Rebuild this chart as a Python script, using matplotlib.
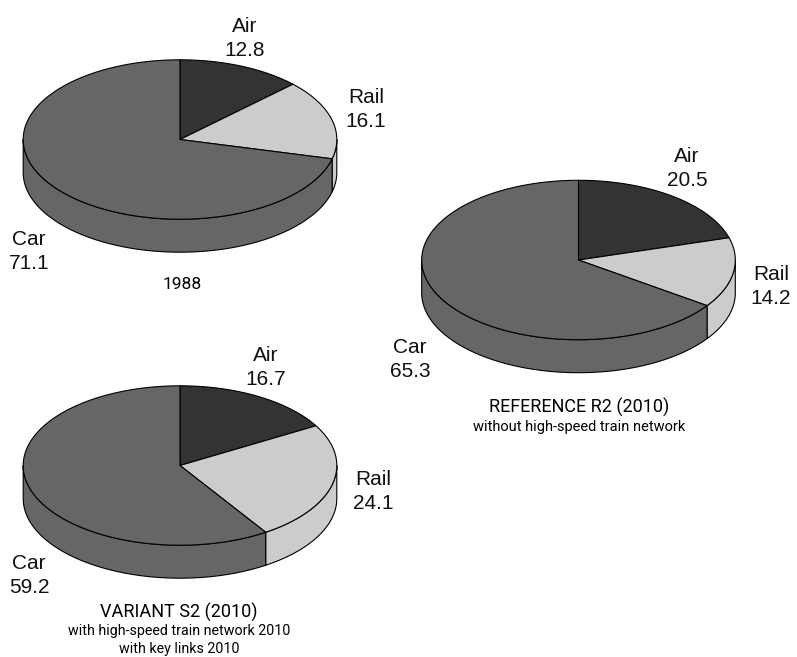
import numpy as np
import matplotlib
matplotlib.use('Agg')
import matplotlib.pyplot as plt
from matplotlib.patches import Polygon

plt.rcParams['font.family'] = ['Liberation Sans', 'DejaVu Sans']
NARROW = ['Roboto', 'Liberation Sans']

# shares in percent, order is clockwise from the top
names = ['Air', 'Rail', 'Car']
shares_1988 = [12.8, 16.1, 71.1]
shares_r2 = [20.5, 14.2, 65.3]
shares_s2 = [16.7, 24.1, 59.2]
colors = ['#333333', '#cccccc', '#666666']

RX, RY, DEPTH = 156.8, 79.7, 33


def rim(cx, cy, a, b, n=200):
    # a, b in degrees clockwise from 12 o'clock
    t = np.radians(np.linspace(a, b, n))
    return np.column_stack([cx + RX * np.sin(t), cy - RY * np.cos(t)])


def pie3d(ax, cx, cy, shares):
    edges = np.cumsum([0] + list(shares)) * 3.6
    # side wall first, only the front half of the disc shows
    for i in range(len(shares)):
        a, b = max(edges[i], 90), min(edges[i + 1], 270)
        if b <= a:
            continue
        top = rim(cx, cy, a, b)
        low = top[::-1] + [0, DEPTH]
        ax.add_patch(Polygon(np.vstack([top, low]), closed=True, fc=colors[i],
                             ec='black', lw=0.8, joinstyle='round'))
    for i in range(len(shares)):
        pts = np.vstack([[cx, cy], rim(cx, cy, edges[i], edges[i + 1])])
        ax.add_patch(Polygon(pts, closed=True, fc=colors[i], ec='black',
                             lw=0.8, joinstyle='round'))


def label(ax, x, y, name, value):
    ax.text(x, y, name, ha='center', va='baseline', fontsize=15, color='#111111')
    ax.text(x, y + 24, '%.1f' % value, ha='center', va='baseline', fontsize=15, color='#111111')


fig = plt.figure(figsize=(7.97, 6.57), dpi=100)
ax = fig.add_axes([0, 0, 1, 1])
ax.set_xlim(0, 797)
ax.set_ylim(657, 0)
ax.axis('off')

pie3d(ax, 180, 139.5, shares_1988)
pie3d(ax, 578.5, 260, shares_r2)
pie3d(ax, 180, 465.5, shares_s2)

label(ax, 245, 32, names[0], shares_1988[0])
label(ax, 366, 103, names[1], shares_1988[1])
label(ax, 29, 245, names[2], shares_1988[2])

label(ax, 687, 162, names[0], shares_r2[0])
label(ax, 771, 280, names[1], shares_r2[1])
label(ax, 410, 353, names[2], shares_r2[2])

label(ax, 266, 361, names[0], shares_s2[0])
label(ax, 373, 485, names[1], shares_s2[1])
label(ax, 29, 569, names[2], shares_s2[2])

ax.text(182, 289, '1988', ha='center', family=NARROW, fontsize=12.5)
ax.text(579, 413, 'REFERENCE R2 (2010)', ha='center', family=NARROW, fontsize=13)
ax.text(579, 431, 'without high-speed train network', ha='center', family=NARROW, fontsize=10.5)
ax.text(179, 618, 'VARIANT S2 (2010)', ha='center', family=NARROW, fontsize=13)
ax.text(179, 635.5, 'with high-speed train network 2010', ha='center', family=NARROW, fontsize=10.3)
ax.text(179, 652.5, 'with key links 2010', ha='center', family=NARROW, fontsize=10.3)

fig.savefig('out.png', dpi=100)
